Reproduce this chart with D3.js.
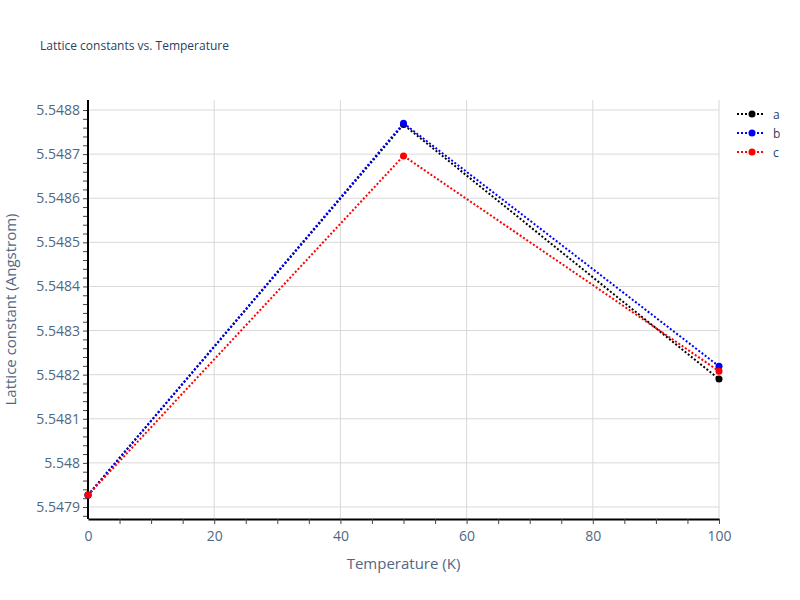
<!DOCTYPE html>
<html><head><meta charset="utf-8">
<script src="https://cdn.jsdelivr.net/npm/d3@7"></script>
<style>body{margin:0;background:#fff}text{font-family:"Open Sans",Arial,sans-serif}</style>
</head><body>
<svg id="chart" width="800" height="600"></svg>
<script>
const temps = [0, 50, 100]
const seriesNames = ['a', 'b', 'c']
const seriesColors = ['black', 'blue', 'red']
const valuesA = [5.547927, 5.548767, 5.548190]
const valuesB = [5.547927, 5.548770, 5.548219]
const valuesC = [5.547927, 5.548696, 5.548208]
const yTicks = [5.5479, 5.548, 5.5481, 5.5482, 5.5483, 5.5484, 5.5485, 5.5486, 5.5487, 5.5488]
const xTicks = [0, 20, 40, 60, 80, 100]

const series = [valuesA, valuesB, valuesC].map((v, i) => ({ name: seriesNames[i], color: seriesColors[i], values: v }))
const svg = d3.select('#chart')
const L = 88, R = 719, T = 100, B = 519

const x = d3.scaleLinear().domain([0, 100]).range([L, R])
// 0.0001 spans ~44.2px, 5.5479 at y=507
const y = d3.scaleLinear().domain([5.5479, 5.5488]).range([507, 110])

const grid = svg.append('g')
grid.selectAll('.gx').data(xTicks.slice(1)).enter().append('line')
	.attr('x1', d => x(d)).attr('x2', d => x(d)).attr('y1', T).attr('y2', B)
	.attr('stroke', '#d9d9d9')
grid.selectAll('.gy').data(yTicks).enter().append('line')
	.attr('x1', L).attr('x2', R).attr('y1', d => y(d)).attr('y2', d => y(d))
	.attr('stroke', '#d9d9d9')

// axes
const xAxis = svg.append('g').attr('transform', `translate(0,${B})`)
	.call(d3.axisBottom(x).tickValues(xTicks).tickSize(0).tickPadding(12).tickFormat(d3.format('d')))
xAxis.select('.domain').attr('stroke', '#000').attr('stroke-width', 2)
xAxis.selectAll('text').attr('fill', '#506784').attr('font-size', 14)
svg.append('g').attr('transform', `translate(0,${B})`)
	.call(d3.axisBottom(x).tickValues(d3.range(5, 101, 5)).tickSize(5).tickFormat(''))
	.call(g => g.select('.domain').remove())
	.selectAll('line').attr('stroke', '#444')

const yMinor = d3.range(0, 47).map(i => 5.54788 + i * 0.00002)
	.filter(v => y(v) >= T && y(v) <= B)
svg.append('g').attr('transform', `translate(${L},0)`)
	.call(d3.axisLeft(y).tickValues(yMinor).tickSize(5).tickFormat(''))
	.call(g => g.select('.domain').remove())
	.selectAll('line').attr('stroke', '#444')
const yAxis = svg.append('g').attr('transform', `translate(${L},0)`)
	.call(d3.axisLeft(y).tickValues(yTicks).tickSize(0).tickPadding(8).tickFormat(d => String(+d.toFixed(4))))
yAxis.select('.domain').attr('d', `M0,${T}V${B}`).attr('stroke', '#000').attr('stroke-width', 2)
yAxis.selectAll('text').attr('fill', '#506784').attr('font-size', 14)

// lines
const line = d3.line().x((d, i) => x(temps[i])).y(d => y(d))
series.forEach(s => {
	svg.append('path').datum(s.values).attr('d', line)
		.attr('fill', 'none').attr('stroke', s.color).attr('stroke-width', 2)
		.attr('stroke-dasharray', '2,2')
	svg.selectAll(null).data(s.values).enter().append('circle')
		.attr('cx', (d, i) => x(temps[i])).attr('cy', d => y(d)).attr('r', 3.5)
		.attr('fill', s.color)
})

// labels
svg.append('text').attr('x', 40).attr('y', 50).attr('font-size', 12).attr('fill', '#2a3f5f')
	.text('Lattice constants vs. Temperature')
svg.append('text').attr('x', (L + R) / 2).attr('y', 569).attr('text-anchor', 'middle')
	.attr('font-size', 15).attr('fill', '#506784').text('Temperature (K)')
svg.append('text').attr('transform', `translate(16,${(T + B) / 2}) rotate(-90)`).attr('text-anchor', 'middle')
	.attr('font-size', 15).attr('fill', '#506784').text('Lattice constant (Angstrom)')

// legend
const leg = svg.append('g').attr('transform', 'translate(737,114)')
series.forEach((s, i) => {
	const g = leg.append('g').attr('transform', `translate(0,${i * 19})`)
	g.append('line').attr('x1', 0).attr('x2', 28).attr('stroke', s.color).attr('stroke-width', 2).attr('stroke-dasharray', '2,2')
	g.append('circle').attr('cx', 15).attr('r', 3.5).attr('fill', s.color)
	g.append('text').attr('x', 36).attr('y', 4.5).attr('font-size', 12).attr('fill', '#2a3f5f').text(s.name)
})
</script>
</body></html>
